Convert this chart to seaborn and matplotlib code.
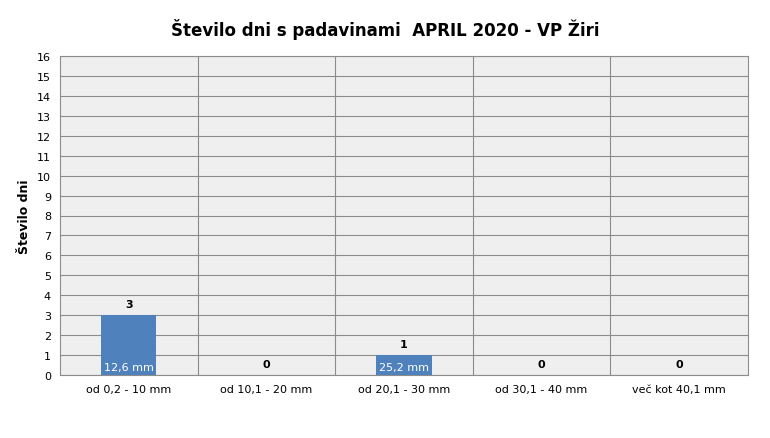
import matplotlib
matplotlib.use('Agg')
import matplotlib.pyplot as plt
import seaborn as sns
import pandas as pd

categories = ['od 0,2 - 10 mm', 'od 10,1 - 20 mm', 'od 20,1 - 30 mm', 'od 30,1 - 40 mm', 'več kot 40,1 mm']
days = [3, 0, 1, 0, 0]
amounts = ['12,6 mm', '', '25,2 mm', '', '']

df = pd.DataFrame({'cat': categories, 'days': days})

sns.set_style('white')
plt.rcParams['font.family'] = ['DejaVu Sans']
plt.rcParams['text.color'] = 'black'
plt.rcParams['xtick.color'] = 'black'
plt.rcParams['ytick.color'] = 'black'
plt.rcParams['axes.labelcolor'] = 'black'

fig = plt.figure(figsize=(7.7, 4.39), dpi=100)
ax = fig.add_axes([60 / 770, 1 - 376 / 439, 688 / 770, 319 / 439])
ax.set_facecolor('#efefef')

sns.barplot(data=df, x='cat', y='days', color='#4f81bd', width=0.4, saturation=1,
            edgecolor='none', linewidth=0, ax=ax, zorder=3)

ax.set_ylim(0, 16)
ax.set_xlim(-0.5, len(categories) - 0.5)
ax.set_yticks(range(0, 17))
ax.yaxis.grid(True, color='#8c8c8c', linewidth=0.8, zorder=0)
for b in range(1, len(categories)):
    ax.axvline(b - 0.5, color='#8c8c8c', linewidth=0.8, zorder=0)
ax.set_axisbelow(True)
for s in ax.spines.values():
    s.set_color('#8c8c8c')

ax.tick_params(axis='both', labelsize=8, length=3, color='#8c8c8c')
ax.set_xlabel('')
ax.set_ylabel('Število dni', fontsize=9, fontweight='bold')

for i, (d, a) in enumerate(zip(days, amounts)):
    ax.text(i, d + 0.3, str(d), ha='center', va='bottom', fontsize=8, fontweight='bold')
    if a:
        ax.text(i, 0.15, a, ha='center', va='bottom', fontsize=8, color='white', zorder=4)

fig.text(0.5, 1 - 30 / 439, 'Število dni s padavinami  APRIL 2020 - VP Žiri',
         ha='center', va='center', fontsize=12, fontweight='bold')

fig.savefig('out.png', dpi=100, facecolor='white')
